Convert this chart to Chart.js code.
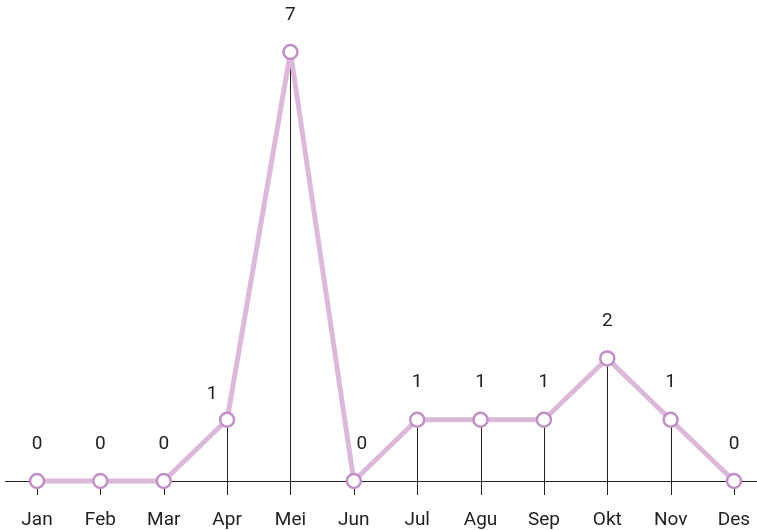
<!DOCTYPE html>
<html>
<head>
<meta charset="utf-8">
<script src="https://cdn.jsdelivr.net/npm/chart.js@4/dist/chart.umd.min.js"></script>
<style>
  html, body { margin: 0; padding: 0; background: #fff; }
  #wrap { width: 757px; height: 530px; }
</style>
</head>
<body>
<div id="wrap"><canvas id="grafik"></canvas></div>
<script>
const months = ["Jan", "Feb", "Mar", "Apr", "Mei", "Jun", "Jul", "Agu", "Sep", "Okt", "Nov", "Des"];
const counts = [0, 0, 0, 1, 7, 0, 1, 1, 1, 2, 1, 0];

const FONT = "Roboto, 'Open Sans', sans-serif";

// drop lines, long baseline, ticks, month names and value labels
const decor = {
  id: "decor",
  beforeDatasetsDraw(chart) {
    const ctx = chart.ctx;
    const base = Math.round(chart.scales.y.getPixelForValue(0));
    const pts = chart.getDatasetMeta(0).data;
    ctx.save();
    ctx.strokeStyle = "#222";
    ctx.lineWidth = 1;
    ctx.beginPath();
    ctx.moveTo(5, base + 0.5);
    ctx.lineTo(chart.width, base + 0.5);
    ctx.stroke();
    pts.forEach((p) => {
      const x = Math.round(p.x) + 0.5;
      ctx.beginPath();
      ctx.moveTo(x, p.y);
      ctx.lineTo(x, base + 14);
      ctx.stroke();
    });
    ctx.fillStyle = "#222";
    ctx.font = "19px " + FONT;
    ctx.textAlign = "center";
    ctx.textBaseline = "middle";
    const xs = chart.scales.x;
    months.forEach((m, i) => {
      ctx.fillText(m, xs.getPixelForValue(i), base + 39);
    });
    ctx.restore();
  },
  afterDatasetsDraw(chart) {
    const ctx = chart.ctx;
    const pts = chart.getDatasetMeta(0).data;
    // labels that sit beside the steep line get nudged
    const nudge = { 3: [-15, 12], 5: [8, 0] };
    ctx.save();
    ctx.fillStyle = "#222";
    ctx.font = "19px " + FONT;
    ctx.textAlign = "center";
    ctx.textBaseline = "middle";
    pts.forEach((p, i) => {
      const d = nudge[i] || [0, 0];
      ctx.fillText(String(counts[i]), p.x + d[0], p.y - 37 + d[1]);
    });
    ctx.restore();
  },
};

new Chart(document.getElementById("grafik"), {
  type: "line",
  data: {
    labels: months,
    datasets: [
      {
        data: counts,
        borderColor: "#dcb9db",
        borderWidth: 5,
        borderJoinStyle: "round",
        tension: 0,
        pointRadius: 7,
        pointHoverRadius: 7,
        pointBackgroundColor: "#ffffff",
        pointBorderColor: "#c28fc6",
        pointBorderWidth: 2.5,
        clip: false,
      },
    ],
  },
  options: {
    responsive: true,
    maintainAspectRatio: false,
    animation: false,
    layout: { padding: { top: 52, left: 37, right: 23, bottom: 49 } },
    plugins: {
      legend: { display: false },
      tooltip: { enabled: false },
    },
    scales: {
      x: { display: false, offset: false },
      y: { display: false, min: 0, max: 7 },
    },
  },
  plugins: [decor],
});
</script>
</body>
</html>
